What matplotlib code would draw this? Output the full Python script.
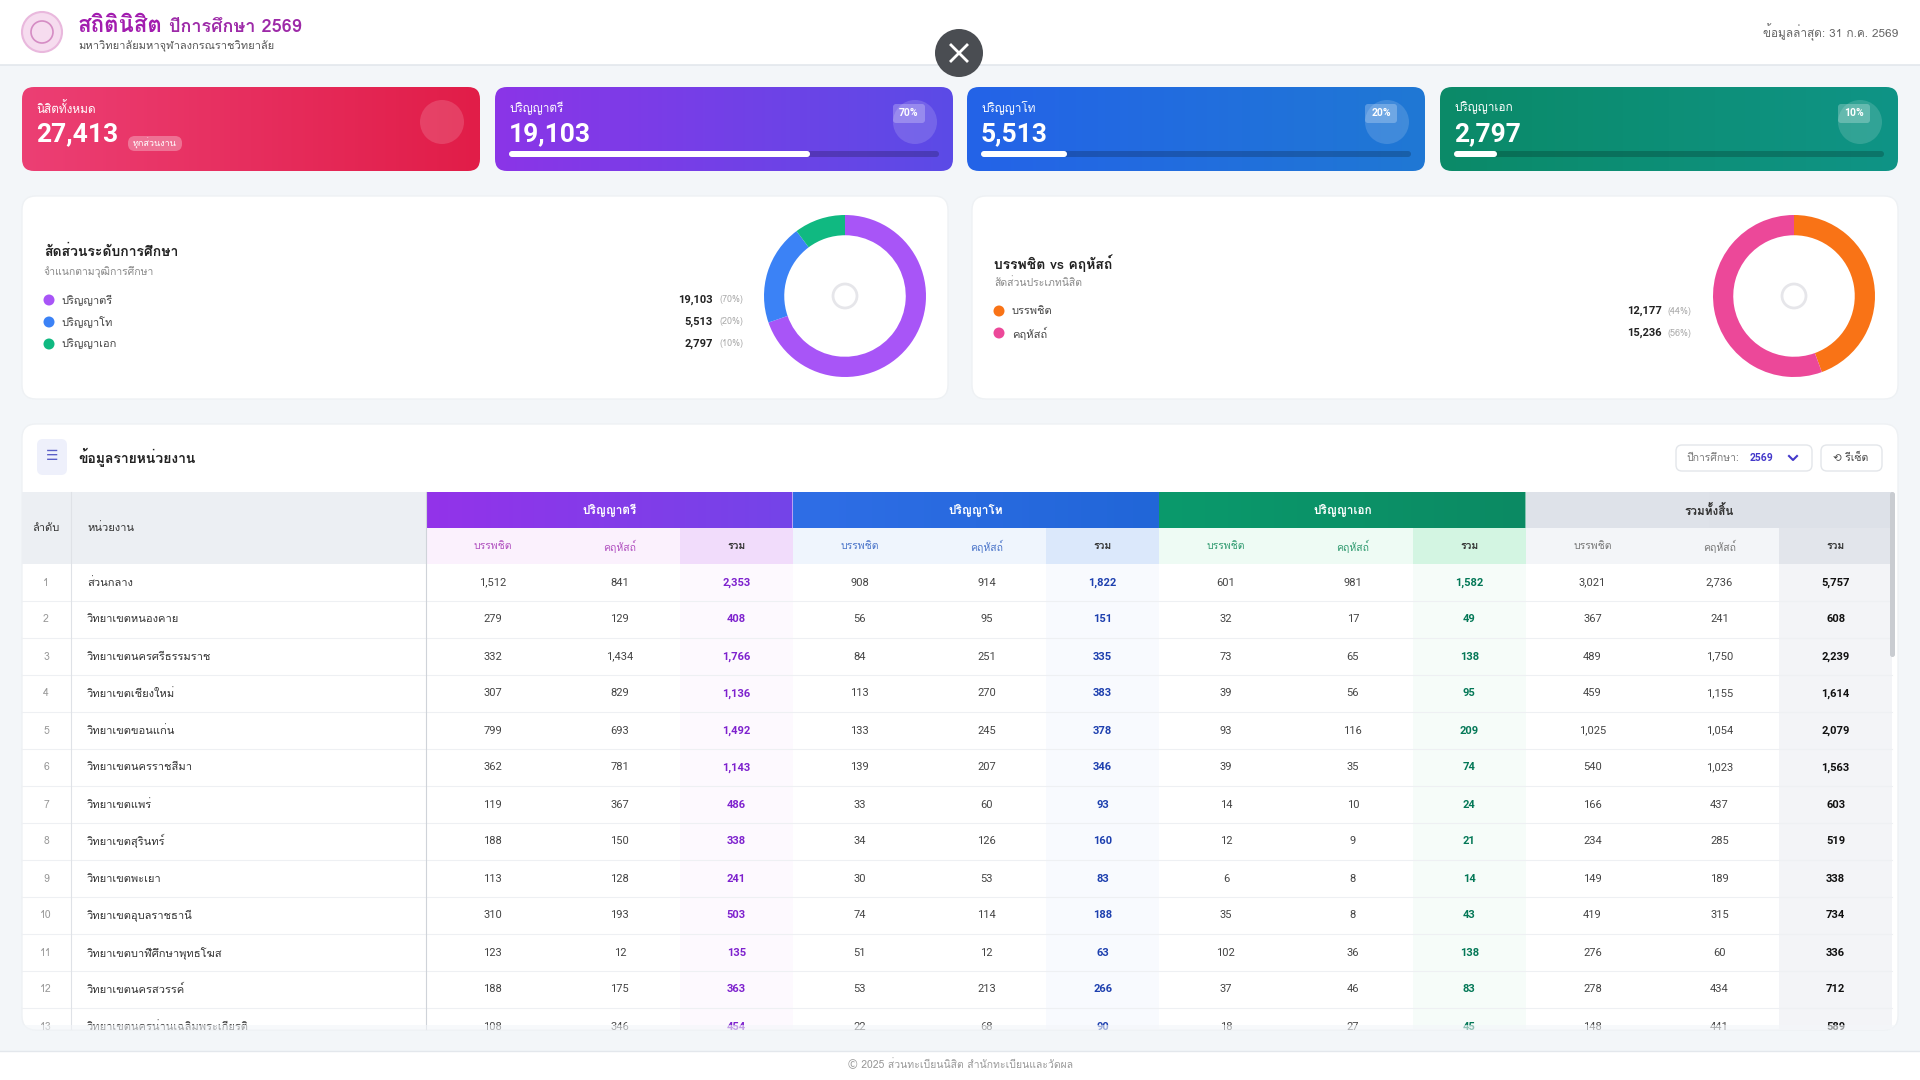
import numpy as np
import matplotlib
matplotlib.use("Agg")
import matplotlib.pyplot as plt
from matplotlib import font_manager
from matplotlib.patches import FancyBboxPatch, Rectangle, Circle
from matplotlib.ft2font import FT2Font

# pick an installed font that has Thai glyphs (prefer one with a bold face)
thai_fonts = {}
for fe in font_manager.fontManager.ttflist:
    try:
        if ord("ก") in FT2Font(fe.fname).get_charmap():
            thai_fonts.setdefault(fe.name, set()).add(fe.weight)
    except Exception:
        pass
thai_font = None
for name, weights in thai_fonts.items():
    if any(w in ("bold", 700) or (isinstance(w, int) and w >= 600) for w in weights):
        thai_font = name
        break
if thai_font is None and thai_fonts:
    thai_font = next(iter(thai_fonts))

# bold-capable latin font for numbers
latin_bold = "DejaVu Sans"
for cand in ["Roboto", "Lato", "Open Sans", "Noto Sans"]:
    ws = [fe.weight for fe in font_manager.fontManager.ttflist if fe.name == cand]
    if any(w in ("bold", 700) or (isinstance(w, int) and w >= 600) for w in ws):
        latin_bold = cand
        break

fams = [f for f in [thai_font, "Noto Sans", "DejaVu Sans"] if f]
num_fams = [latin_bold, "DejaVu Sans"]
plt.rcParams["font.family"] = fams

# ---- data ----
level_names = ["ปริญญาตรี", "ปริญญาโท", "ปริญญาเอก"]
level_counts = [19103, 5513, 2797]
level_pcts = [70, 20, 10]
level_colors = ["#a855f7", "#3b82f6", "#10b981"]
total_students = 27413

type_names = ["บรรพชิต", "คฤหัสถ์"]
type_counts = [12177, 15236]
type_pcts = [44, 56]
type_colors = ["#f97316", "#ec4899"]

units = ["ส่วนกลาง", "วิทยาเขตหนองคาย", "วิทยาเขตนครศรีธรรมราช", "วิทยาเขตเชียงใหม่",
         "วิทยาเขตขอนแก่น", "วิทยาเขตนครราชสีมา", "วิทยาเขตแพร่", "วิทยาเขตสุรินทร์",
         "วิทยาเขตพะเยา", "วิทยาเขตอุบลราชธานี", "วิทยาเขตบาฬีศึกษาพุทธโฆส",
         "วิทยาเขตนครสวรรค์", "วิทยาเขตนครน่านเฉลิมพระเกียรติ"]
bachelor = [[1512, 841, 2353], [279, 129, 408], [332, 1434, 1766], [307, 829, 1136],
            [799, 693, 1492], [362, 781, 1143], [119, 367, 486], [188, 150, 338],
            [113, 128, 241], [310, 193, 503], [123, 12, 135], [188, 175, 363], [108, 346, 454]]
master = [[908, 914, 1822], [56, 95, 151], [84, 251, 335], [113, 270, 383],
          [133, 245, 378], [139, 207, 346], [33, 60, 93], [34, 126, 160],
          [30, 53, 83], [74, 114, 188], [51, 12, 63], [53, 213, 266], [22, 68, 90]]
doctor = [[601, 981, 1582], [32, 17, 49], [73, 65, 138], [39, 56, 95],
          [93, 116, 209], [39, 35, 74], [14, 10, 24], [12, 9, 21],
          [6, 8, 14], [35, 8, 43], [102, 36, 138], [37, 46, 83], [18, 27, 45]]
overall = [[3021, 2736, 5757], [367, 241, 608], [489, 1750, 2239], [459, 1155, 1614],
           [1025, 1054, 2079], [540, 1023, 1563], [166, 437, 603], [234, 285, 519],
           [149, 189, 338], [419, 315, 734], [276, 60, 336], [278, 434, 712], [148, 441, 589]]

W, H = 1920, 1080
fig = plt.figure(figsize=(19.2, 10.8), dpi=100)
fig.patch.set_facecolor("#f3f6f9")
ax = fig.add_axes([0, 0, 1, 1])
ax.set_xlim(0, W)
ax.set_ylim(H, 0)
ax.axis("off")


def rbox(x, y, w, h, r, fc, ec="none", lw=0, z=1, alpha=1):
    p = FancyBboxPatch((x, y), w, h, boxstyle=f"round,pad=0,rounding_size={r}",
                       fc=fc, ec=ec, lw=lw, zorder=z, alpha=alpha)
    ax.add_patch(p)
    return p


def gradient_box(x, y, w, h, r, c1, c2, z=2):
    p = rbox(x, y, w, h, r, "none", z=z)
    cmap = matplotlib.colors.LinearSegmentedColormap.from_list("g", [c1, c2])
    g = np.linspace(0, 1, 256).reshape(1, -1)
    im = ax.imshow(g, extent=(x, x + w, y + h, y), cmap=cmap, aspect="auto", zorder=z)
    im.set_clip_path(p)


def fmt(v):
    return f"{v:,}"


# ---- header ----
ax.add_patch(Rectangle((0, 0), W, 65, fc="white", zorder=1))
ax.plot([0, W], [65, 65], color="#e3e7ec", lw=1.2, zorder=2)
ax.add_patch(Circle((42, 32), 20, fc="#f6dcef", ec="#e9b8dd", lw=1.5, zorder=3))
ax.add_patch(Circle((42, 32), 11, fc="none", ec="#d58cc4", lw=1.2, zorder=4))
ax.text(78, 26, "สถิตินิสิต", fontsize=16, fontweight="bold", color="#a21caf", va="center", zorder=4)
ax.text(169, 27, "ปีการศึกษา 2569", fontsize=13, fontweight="bold", color="#9d2aa8", va="center", zorder=4)
ax.text(78, 46, "มหาวิทยาลัยมหาจุฬาลงกรณราชวิทยาลัย", fontsize=8, color="#555", va="center", zorder=4)
ax.text(1898, 32, "ข้อมูลล่าสุด: 31 ก.ค. 2569", fontsize=8.5, color="#666",
        ha="right", va="center", zorder=6)

# ---- stat cards ----
card_x = [22, 495, 967, 1440]
card_w = 458
card_cols = [("#ec3f74", "#e11d48"), ("#8b35e8", "#5b4be6"), ("#2463e8", "#1f78d4"), ("#0b8a68", "#0f9486")]
card_labels = ["นิสิตทั้งหมด"] + level_names
card_vals = [total_students] + level_counts
for i, x in enumerate(card_x):
    gradient_box(x, 87, card_w, 84, 12, card_cols[i][0], card_cols[i][1])
    ax.text(x + 14, 108, card_labels[i], fontsize=8.5, color="white", va="center", zorder=5)
    ax.text(x + 14, 134, fmt(card_vals[i]), fontsize=19, fontweight="bold", color="white",
            va="center", zorder=5, family=num_fams)
    ax.add_patch(Circle((x + card_w - 38, 122), 22, fc="white", alpha=0.15, zorder=4))
    if i == 0:
        rbox(x + 106, 136, 54, 15, 7, "white", z=5, alpha=0.3)
        ax.text(x + 133, 143.5, "ทุกส่วนงาน", fontsize=6.5, color="white", ha="center", va="center", zorder=6)
    else:
        rbox(x + 14, 151, 430, 6, 3, "black", z=4, alpha=0.2)
        rbox(x + 14, 151, 430 * level_pcts[i - 1] / 100, 6, 3, "white", z=5)
        rbox(x + 398, 104, 32, 19, 3, "white", z=5, alpha=0.25)
        ax.text(x + 414, 113.5, f"{level_pcts[i - 1]}%", fontsize=7.5, fontweight="bold",
                color="white", ha="center", va="center", zorder=6, family=num_fams)

# ---- donut panels ----
panels = [
    (22, "สัดส่วนระดับการศึกษา", "จำแนกตามวุฒิการศึกษา", level_names, level_counts, level_pcts,
     level_colors, (845, 296), 252, 300, 713),
    (972, "บรรพชิต vs คฤหัสถ์", "สัดส่วนประเภทนิสิต", type_names, type_counts, type_pcts,
     type_colors, (1794, 296), 263, 311, 1662),
]
for px, title, sub, names, counts, pcts, cols, (cx, cy), ty, ry, vx in panels:
    rbox(px, 196, 926, 203, 14, "white", ec="#eef1f4", lw=1, z=2)
    ax.text(px + 22, ty, title, fontsize=10, fontweight="bold", color="#222", va="center", zorder=5)
    ax.text(px + 22, ty + 20, sub, fontsize=7.5, color="#888", va="center", zorder=5)
    for j, n in enumerate(names):
        yy = ry + 22 * j
        ax.add_patch(Circle((px + 27, yy), 5.5, fc=cols[j], zorder=5))
        ax.text(px + 40, yy, n, fontsize=8, color="#444", va="center", zorder=5)
        ax.text(vx, yy, fmt(counts[j]), fontsize=8, fontweight="bold", color="#222",
                ha="right", va="center", zorder=5, family=num_fams)
        ax.text(vx + 6, yy, f"({pcts[j]}%)", fontsize=6.5, color="#aaa", va="center", zorder=5)
    r = 81
    dax = fig.add_axes([(cx - r) / W, 1 - (cy + r) / H, 2 * r / W, 2 * r / H])
    dax.pie(counts, colors=cols, startangle=90, counterclock=False,
            wedgeprops=dict(width=0.25, edgecolor="none"))
    dax.set_xlim(-1, 1)
    dax.set_ylim(-1, 1)
    dax.set_aspect("equal")
    ax.add_patch(Circle((cx, cy), 12, fc="none", ec="#e6e6ea", lw=2, zorder=5))

# ---- close button ----
ax.add_patch(Circle((959, 53), 24, fc="#4a4d52", zorder=20))
ax.plot([951, 967], [45, 61], color="white", lw=2, zorder=21)
ax.plot([951, 967], [61, 45], color="white", lw=2, zorder=21)

# ---- table panel ----
rbox(22, 424, 1876, 606, 14, "white", ec="#eef1f4", lw=1, z=2)
rbox(37, 439, 30, 36, 6, "#eef0fb", z=3)
ax.text(52, 457, "☰", fontsize=10, color="#5b5fc7", ha="center", va="center", zorder=4)
ax.text(78, 457, "ข้อมูลรายหน่วยงาน", fontsize=10, fontweight="bold", color="#222", va="center", zorder=4)
rbox(1676, 445, 136, 26, 6, "white", ec="#e3e6ea", lw=1, z=3)
ax.text(1686, 458, "ปีการศึกษา:", fontsize=7.5, color="#777", va="center", zorder=4)
ax.text(1750, 458, "2569", fontsize=7.5, fontweight="bold", color="#4338ca", va="center", zorder=4,
        family=num_fams)
ax.plot([1789, 1793, 1797], [456, 460, 456], color="#4338ca", lw=1.5, zorder=4)
rbox(1821, 445, 61, 26, 6, "white", ec="#e3e6ea", lw=1, z=3)
ax.text(1851, 458, "⟲ รีเซ็ต", fontsize=7.5, color="#444", ha="center", va="center", zorder=4)

clip = Rectangle((22, 492), 1870, 537, transform=ax.transData)
y0, y1, y2 = 492, 528, 564
row_h = 37
tx0 = 426
gw = (1892 - tx0) / 4
sub_frac = [0.365, 0.328, 0.307]

# left header
ax.add_patch(Rectangle((22, y0), tx0 - 22, y2 - y0, fc="#eceff3", zorder=3))
ax.text(46, 528, "ลำดับ", fontsize=8, color="#333", ha="center", va="center", zorder=4)
ax.text(87, 528, "หน่วยงาน", fontsize=8, color="#333", va="center", zorder=4)

groups = ["ปริญญาตรี", "ปริญญาโท", "ปริญญาเอก", "รวมทั้งสิ้น"]
g_head = [("#9333ea", "#7444e8"), ("#2f6ee6", "#2166d8"), ("#0a9a6c", "#0c8a63"), ("#dfe3ea", "#dde1e8")]
g_sub = ["#fbf1fd", "#eff5fd", "#eefbf4", "#f3f5f8"]
g_sum = ["#f1dcfb", "#dbe8fb", "#d3f5e2", "#e2e5eb"]
g_cell = ["#fdf9fe", "#f8fafe", "#f6fcf9", "#f3f4f7"]
g_txt = ["#7e22ce", "#1e40af", "#047857", "#111111"]
g_title = ["white", "white", "white", "#333"]
sub_names = ["บรรพชิต", "คฤหัสถ์", "รวม"]
data_groups = [bachelor, master, doctor, overall]
sub_txt = ["#b04fbf", "#4a74c9", "#2f9a6f", "#777"]

for g in range(4):
    gx = tx0 + g * gw
    gradient_box(gx, y0, gw, y1 - y0, 0, g_head[g][0], g_head[g][1], z=3)
    ax.text(gx + gw / 2, (y0 + y1) / 2, groups[g], fontsize=8.5, fontweight="bold",
            color=g_title[g], ha="center", va="center", zorder=5)
    sx = gx
    for s in range(3):
        sw = gw * sub_frac[s]
        ax.add_patch(Rectangle((sx, y1), sw, y2 - y1, fc=g_sum[g] if s == 2 else g_sub[g], zorder=3))
        ax.text(sx + sw / 2, (y1 + y2) / 2, sub_names[s], fontsize=7.5,
                fontweight="bold" if s == 2 else "normal",
                color="#333" if s == 2 else sub_txt[g], ha="center", va="center", zorder=4)
        if s == 2:
            ax.add_patch(Rectangle((sx, y2), sw, 1029 - y2, fc=g_cell[g], zorder=3))
        for i, row in enumerate(data_groups[g]):
            yy = y2 + row_h * (i + 0.5)
            t = ax.text(sx + sw / 2, yy, fmt(row[s]), fontsize=8,
                        fontweight="bold" if s == 2 else "normal", family=num_fams,
                        color=g_txt[g] if s == 2 else "#444", ha="center", va="center", zorder=5)
            t.set_clip_path(clip)
        sx += sw

for i, u in enumerate(units):
    yy = y2 + row_h * (i + 0.5)
    t1 = ax.text(46, yy, str(i + 1), fontsize=7.5, color="#999", ha="center", va="center", zorder=5)
    t2 = ax.text(87, yy, u, fontsize=8, color="#333", va="center", zorder=5)
    t1.set_clip_path(clip)
    t2.set_clip_path(clip)
    ly = y2 + row_h * (i + 1)
    if ly < 1029:
        ax.plot([22, 1892], [ly, ly], color="#eef0f3", lw=0.8, zorder=4)

ax.plot([71, 71], [y0, 1029], color="#dfe2e7", lw=0.8, zorder=4)
ax.plot([tx0, tx0], [y0, 1029], color="#cfd3d9", lw=0.8, zorder=4)
rbox(1890, 492, 5, 165, 2.5, "#c9ccd1", z=6)
ax.add_patch(Rectangle((22, 1025), 1876, 5, fc="#f3f6f9", zorder=6, alpha=0.6))

# ---- footer ----
ax.add_patch(Rectangle((0, 1051), W, 29, fc="white", zorder=1))
ax.plot([0, W], [1051, 1051], color="#e3e7ec", lw=1, zorder=2)
ax.text(960, 1064, "© 2025 ส่วนทะเบียนนิสิต สำนักทะเบียนและวัดผล", fontsize=7.5, color="#999",
        ha="center", va="center", zorder=3)

fig.savefig("out.png", dpi=100, facecolor=fig.get_facecolor())
